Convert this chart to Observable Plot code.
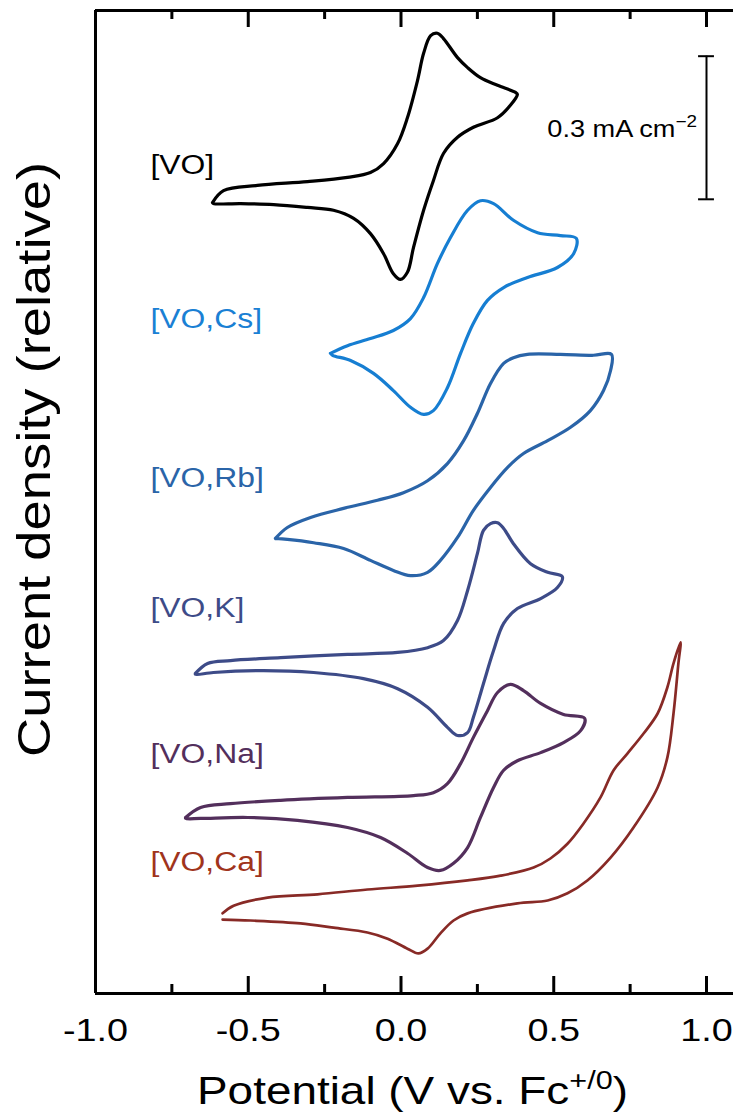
<!DOCTYPE html>
<html>
<head>
<meta charset="utf-8">
<script src="https://cdn.jsdelivr.net/npm/d3@7"></script>
<script src="https://cdn.jsdelivr.net/npm/@observablehq/plot@0.6"></script>
<style>
  html, body { margin: 0; padding: 0; background: #fff; }
  #root { width: 733px; height: 1116px; }
</style>
</head>
<body>
<div id="root"></div>
<script>
// ---------- data (potential in V vs Fc+/0, current density in mA cm^-2, stacked/relative) ----------
const seriesNames = ["[VO]", "[VO,Cs]", "[VO,Rb]", "[VO,K]", "[VO,Na]", "[VO,Ca]"];

const cvVO = [
  [-0.617,1.658],[-0.581,1.683],[-0.470,1.694],[-0.306,1.702],[-0.175,1.711],[-0.100,1.721],[-0.057,1.740],
  [-0.011,1.782],[0.021,1.836],[0.054,1.914],[0.074,1.971],[0.097,2.008],[0.119,2.013],[0.139,2.002],
  [0.185,1.962],[0.218,1.941],[0.260,1.920],[0.316,1.904],[0.375,1.889],[0.381,1.885],
  [0.358,1.862],[0.316,1.836],[0.237,1.816],[0.185,1.795],[0.139,1.761],[0.106,1.704],[0.074,1.642],
  [0.041,1.564],[0.021,1.512],[-0.002,1.497],[-0.025,1.509],[-0.057,1.551],[-0.100,1.593],[-0.155,1.625],
  [-0.221,1.642],[-0.306,1.648],[-0.417,1.654],[-0.525,1.656],[-0.614,1.656],[-0.617,1.658]
];

const cvCs = [
  [-0.231,1.342],[-0.175,1.358],[-0.100,1.373],[-0.025,1.390],[0.031,1.415],[0.074,1.459],[0.119,1.530],
  [0.162,1.585],[0.218,1.642],[0.260,1.662],[0.303,1.656],[0.368,1.621],[0.447,1.595],[0.522,1.589],[0.574,1.583],
  [0.565,1.551],[0.512,1.522],[0.414,1.501],[0.336,1.480],[0.283,1.453],[0.237,1.405],[0.195,1.342],
  [0.152,1.270],[0.106,1.222],[0.074,1.214],[0.031,1.229],[-0.025,1.264],[-0.090,1.300],[-0.165,1.327],
  [-0.224,1.338],[-0.231,1.342]
];

const cvRb = [
  [-0.411,0.954],[-0.372,0.977],[-0.296,0.998],[-0.188,1.017],[-0.077,1.034],[0.008,1.050],[0.087,1.075],
  [0.152,1.111],[0.205,1.159],[0.250,1.216],[0.293,1.279],[0.336,1.321],[0.368,1.333],[0.414,1.340],
  [0.522,1.340],[0.630,1.338],[0.689,1.340],
  [0.686,1.306],[0.663,1.264],[0.620,1.222],[0.555,1.187],[0.480,1.159],[0.401,1.132],[0.349,1.103],
  [0.293,1.061],[0.237,1.013],[0.185,0.956],[0.129,0.908],[0.087,0.883],[0.031,0.876],[-0.025,0.887],
  [-0.100,0.908],[-0.188,0.933],[-0.286,0.945],[-0.372,0.952],[-0.411,0.954]
];

const cvK = [
  [-0.673,0.671],[-0.633,0.692],[-0.558,0.698],[-0.394,0.704],[-0.175,0.711],[-0.011,0.715],[0.087,0.725],
  [0.139,0.740],[0.185,0.782],[0.218,0.845],[0.250,0.922],[0.270,0.971],[0.293,0.985],[0.316,0.987],
  [0.336,0.975],[0.368,0.943],[0.424,0.901],[0.480,0.883],[0.528,0.874],
  [0.512,0.851],[0.457,0.828],[0.381,0.807],[0.336,0.776],[0.303,0.719],[0.270,0.650],[0.237,0.579],
  [0.218,0.547],[0.185,0.541],[0.152,0.558],[0.087,0.600],[-0.011,0.639],[-0.123,0.660],[-0.286,0.673],
  [-0.450,0.677],[-0.614,0.673],[-0.673,0.669],[-0.673,0.671]
];

const cvNa = [
  [-0.705,0.369],[-0.656,0.390],[-0.558,0.398],[-0.394,0.405],[-0.175,0.411],[0.041,0.415],[0.106,0.421],
  [0.152,0.440],[0.195,0.482],[0.237,0.537],[0.283,0.593],[0.316,0.631],[0.358,0.648],[0.401,0.635],
  [0.457,0.608],[0.532,0.585],[0.601,0.577],
  [0.588,0.551],[0.532,0.526],[0.457,0.505],[0.381,0.488],[0.336,0.468],[0.303,0.432],[0.260,0.369],
  [0.218,0.306],[0.172,0.273],[0.129,0.258],[0.087,0.264],[0.021,0.294],[-0.067,0.327],[-0.175,0.348],
  [-0.339,0.363],[-0.502,0.369],[-0.656,0.367],[-0.705,0.367],[-0.705,0.369]
];

const cvCa = [
  [-0.584,0.168],[-0.548,0.184],[-0.437,0.201],[-0.273,0.208],[-0.110,0.218],[0.054,0.226],[0.218,0.237],
  [0.326,0.247],[0.434,0.264],[0.489,0.283],[0.545,0.314],[0.597,0.356],[0.653,0.411],[0.696,0.468],
  [0.741,0.503],[0.794,0.545],[0.840,0.587],[0.872,0.642],[0.892,0.692],[0.915,0.736],
  [0.908,0.692],[0.892,0.587],[0.872,0.495],[0.840,0.432],[0.761,0.348],[0.686,0.285],[0.610,0.237],
  [0.545,0.210],[0.480,0.195],[0.381,0.189],[0.218,0.168],[0.172,0.153],[0.129,0.126],[0.087,0.094],
  [0.057,0.084],[0.021,0.094],[-0.044,0.115],[-0.110,0.128],[-0.221,0.138],[-0.329,0.147],[-0.493,0.153],
  [-0.584,0.155]
];

const curves = [cvVO, cvCs, cvRb, cvK, cvNa, cvCa];

const majorTicks = [-1.0, -0.5, 0.0, 0.5, 1.0];
const minorTicks = [-0.75, -0.25, 0.25, 0.75];

// scale bar: 0.3 mA cm^-2 drawn at 1.0 V
const scaleBarX = 1.0;
const scaleBarBottom = 1.665;
const scaleBarTop = scaleBarBottom + 0.3;

// ---------- layout / style (kept apart from the data) ----------
const labelX = -0.82;
const labelY = [1.736, 1.413, 1.080, 0.807, 0.501, 0.275];
const lineColors  = ["#000000", "#167ed2", "#2a64a8", "#3d4b88", "#532f5c", "#882a26"];
const labelColors = ["#000000", "#1a80d4", "#2a64a8", "#3d4b88", "#532f5c", "#a0341c"];
const lineWidths  = [3.2, 3.2, 3.2, 3.2, 3.2, 2.7];
const FONT = "'Liberation Sans', Arial, Helvetica, sans-serif";
const W = 733, H = 1116, mL = 95, mR = 0, mT = 10, mB = 123;
const xMax = -1 + 2 * (W - mL) / (706 - mL);   // frame continues past the right edge
const yMax = 2.0608;

const rows = curves.flatMap((c, i) => c.map(([V, j]) => ({series: seriesNames[i], V, j})));
const labelRows = seriesNames.map((name, i) => ({name, y: labelY[i], i}));

const lineMarks = curves.map((c, i) =>
  Plot.line(rows.filter(r => r.series === seriesNames[i]), {
    x: "V", y: "j", curve: "catmull-rom",
    stroke: lineColors[i], strokeWidth: lineWidths[i], strokeLinejoin: "round"
  }));

const plotH = H - mT - mB;

const chart = Plot.plot({
  width: W, height: H,
  marginLeft: mL, marginRight: mR, marginTop: mT, marginBottom: mB,
  style: {fontFamily: FONT, background: "#fff", color: "#000", overflow: "visible"},
  x: {domain: [-1, xMax], axis: null},
  y: {domain: [0, yMax], axis: null},
  marks: [
    ...lineMarks,
    // frame (left, bottom, top)
    Plot.ruleX([-1], {stroke: "#000", strokeWidth: 3}),
    Plot.ruleY([0, yMax], {stroke: "#000", strokeWidth: 3}),
    // inward ticks, bottom and top
    Plot.tickX(majorTicks, {x: d => d, insetTop: plotH - 17, stroke: "#000", strokeWidth: 3}),
    Plot.tickX(minorTicks, {x: d => d, insetTop: plotH - 9, stroke: "#000", strokeWidth: 3}),
    Plot.tickX(majorTicks, {x: d => d, insetBottom: plotH - 17, stroke: "#000", strokeWidth: 3}),
    Plot.tickX(minorTicks, {x: d => d, insetBottom: plotH - 9, stroke: "#000", strokeWidth: 3}),
    Plot.axisX({
      anchor: "bottom", ticks: majorTicks, tickSize: 0, tickPadding: 25,
      tickFormat: d => d.toFixed(1), fontSize: 32, label: null, fill: "#000"
    }),
    // series labels
    Plot.text(labelRows, {
      x: labelX, y: "y", text: "name", textAnchor: "start", fontSize: 27,
      fill: d => labelColors[d.i]
    }),
    // scale bar
    Plot.ruleX([scaleBarX], {y1: scaleBarBottom, y2: scaleBarTop, stroke: "#000", strokeWidth: 2}),
    Plot.ruleY([scaleBarBottom, scaleBarTop], {x1: scaleBarX - 0.026, x2: scaleBarX + 0.026, stroke: "#000", strokeWidth: 2})
  ]
});

document.getElementById("root").append(chart);

const sx = chart.scale("x"), sy = chart.scale("y");
const svg = d3.select(chart);

// scale bar label with superscript
const mid = (scaleBarBottom + scaleBarTop) / 2;
const sb = svg.append("text")
  .attr("x", sx.apply(scaleBarX) - 9).attr("y", sy.apply(mid) + 10)
  .attr("text-anchor", "end").attr("font-size", 23).attr("font-family", FONT).attr("fill", "#000");
sb.append("tspan").text("0.3 mA cm");
sb.append("tspan").attr("dy", -10).attr("font-size", 16).text("\u22122");

// x title
const xt = svg.append("text")
  .attr("x", 197).attr("y", 1104)
  .attr("text-anchor", "start").attr("font-size", 39).attr("font-family", FONT).attr("fill", "#000")
  .attr("class", "fixed");
xt.append("tspan").text("Potential (V vs. Fc");
xt.append("tspan").attr("dy", -15).attr("font-size", 26).text("+/0");
xt.append("tspan").attr("dy", 15).text(")");

// y title
const yt = svg.append("text")
  .attr("transform", "translate(50,459.5) rotate(-90)")
  .attr("text-anchor", "middle").attr("font-size", 46).attr("font-family", FONT).attr("fill", "#000")
  .attr("class", "fixed")
  .text("Current density (relative)");

// widen glyph advance to match the reference typeface
chart.querySelectorAll("text").forEach(t => {
  const L = t.getComputedTextLength();
  let f = 1.18;
  if (t.getAttribute("class") === "fixed") {
    const target = t === xt.node() ? 431 : 595;
    t.setAttribute("textLength", target);
  } else {
    if (+t.getAttribute("font-size") === 27) f = 1.14;
    t.setAttribute("textLength", (L * f).toFixed(1));
  }
  t.setAttribute("lengthAdjust", "spacingAndGlyphs");
});
</script>
</body>
</html>
